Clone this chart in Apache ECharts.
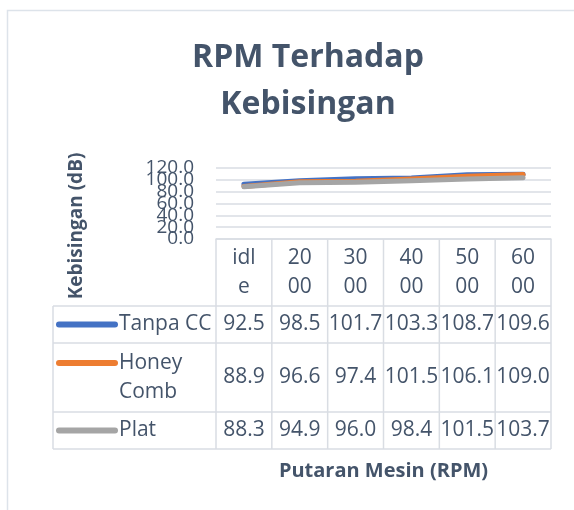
<!DOCTYPE html>
<html>
<head>
<meta charset="utf-8">
<script src="https://cdn.jsdelivr.net/npm/echarts@6/dist/echarts.min.js"></script>
<style>
  html, body { margin: 0; padding: 0; background: #fff; }
  #main { width: 574px; height: 510px; }
</style>
</head>
<body>
<div id="main"></div>
<script>
// data
const categories = ['idle', '2000', '3000', '4000', '5000', '6000'];
const seriesNames = ['Tanpa CC', 'Honey Comb', 'Plat'];
const tanpaCC = [92.5, 98.5, 101.7, 103.3, 108.7, 109.6];
const honeyComb = [88.9, 96.6, 97.4, 101.5, 106.1, 109.0];
const plat = [88.3, 94.9, 96.0, 98.4, 101.5, 103.7];
const yTicks = [0, 20, 40, 60, 80, 100, 120];

const seriesData = [tanpaCC, honeyComb, plat];
const colors = ['#4472C4', '#ED7D31', '#A5A5A5'];
const textColor = '#44546A';
const lineColor = '#D9DDE3';
const font = '"Open Sans", sans-serif';
const step = yTicks[1] - yTicks[0];

var myChart = echarts.init(document.getElementById('main'));

// the tick labels overlap in the original, so even and odd ticks go on two
// stacked axes to stop echarts from hiding them
function makeYAxis(parity) {
  return {
    type: 'value',
    position: 'left',
    min: yTicks[0],
    max: yTicks[yTicks.length - 1],
    interval: step,
    axisLine: { show: false },
    axisTick: { show: false },
    axisLabel: {
      margin: 22,
      fontFamily: font,
      fontSize: 19,
      color: textColor,
      showMinLabel: true,
      showMaxLabel: true,
      hideOverlap: false,
      formatter: function (v) {
        return Math.round(v / step) % 2 === parity ? v.toFixed(1) : '';
      },
    },
    splitLine: { show: parity === 0, lineStyle: { color: lineColor, width: 1.5 } },
  };
}

var option = {
  animation: false,
  title: {
    text: 'RPM Terhadap\nKebisingan',
    left: 303,
    top: 29,
    textAlign: 'center',
    textStyle: {
      fontFamily: font,
      fontSize: 32,
      fontWeight: 'bold',
      color: textColor,
      lineHeight: 47,
    },
  },
  grid: {
    left: 216,
    right: 23,
    top: 168,
    bottom: 271,
  },
  xAxis: {
    type: 'category',
    data: categories,
    boundaryGap: true,
    name: 'Putaran Mesin (RPM)',
    nameLocation: 'middle',
    nameGap: 222,
    nameTextStyle: {
      fontFamily: font,
      fontSize: 20,
      fontWeight: 'bold',
      color: textColor,
    },
    axisLine: { show: true, lineStyle: { color: lineColor, width: 1.5 } },
    axisTick: { show: false },
    axisLabel: {
      interval: 0,
      margin: 5,
      fontFamily: font,
      fontSize: 21,
      color: textColor,
      lineHeight: 29,
      width: 30,
      overflow: 'breakAll',
    },
  },
  yAxis: [makeYAxis(0), makeYAxis(1)],
  series: seriesNames.map(function (name, i) {
    return {
      name: name,
      type: 'line',
      data: seriesData[i],
      symbol: 'none',
      color: colors[i],
      lineStyle: { width: 5, cap: 'round', join: 'round' },
    };
  }),
};

myChart.setOption(option);

// data table under the plot, placed from the axis scale
const cx = categories.map(function (c, i) {
  return myChart.convertToPixel({ xAxisIndex: 0 }, i);
});
const half = (cx[1] - cx[0]) / 2;
const colEdges = [cx[0] - half].concat(cx.map(function (x) { return x + half; }));
const y0 = myChart.convertToPixel({ yAxisIndex: 0 }, 0);
const headerH = 67;
const rowH = [37, 69, 37];
const lineH = 29;
const tableLeft = 53;
const tableRight = colEdges[colEdges.length - 1];

const rowTops = [y0 + headerH];
rowH.forEach(function (h, i) { rowTops.push(rowTops[i] + h); });
const tableBottom = rowTops[rowTops.length - 1];

const graphics = [];
// outer frame
graphics.push({
  type: 'rect',
  shape: { x: 7.5, y: 10.5, width: 600, height: 600 },
  style: { fill: 'none', stroke: '#DDE3EA', lineWidth: 1.5 },
  silent: true,
});
// vertical lines
colEdges.forEach(function (x) {
  graphics.push({
    type: 'line',
    shape: { x1: x, y1: y0, x2: x, y2: tableBottom },
    style: { stroke: lineColor, lineWidth: 1.5 },
  });
});
graphics.push({
  type: 'line',
  shape: { x1: tableLeft, y1: rowTops[0], x2: tableLeft, y2: tableBottom },
  style: { stroke: lineColor, lineWidth: 1.5 },
});
// horizontal lines
rowTops.forEach(function (y) {
  graphics.push({
    type: 'line',
    shape: { x1: tableLeft, y1: y, x2: tableRight, y2: y },
    style: { stroke: lineColor, lineWidth: 1.5 },
  });
});
// rows
seriesNames.forEach(function (name, i) {
  const top = rowTops[i];
  const mid = top + rowH[i] / 2;
  const nLines = rowH[i] > 50 ? 2 : 1;
  const keyY = top + (rowH[i] - nLines * lineH) / 2 + lineH / 2;
  graphics.push({
    type: 'line',
    shape: { x1: 59, y1: keyY, x2: 115, y2: keyY },
    style: { stroke: colors[i], lineWidth: 6, lineCap: 'round' },
  });
  graphics.push({
    type: 'text',
    x: 119,
    y: mid,
    style: {
      text: name,
      fontFamily: font,
      fontSize: 21,
      fill: textColor,
      width: 94,
      overflow: 'break',
      lineHeight: lineH,
      align: 'left',
      verticalAlign: 'middle',
    },
  });
  seriesData[i].forEach(function (v, j) {
    graphics.push({
      type: 'text',
      x: cx[j],
      y: mid,
      style: {
        text: v.toFixed(1),
        fontFamily: font,
        fontSize: 21,
        fill: textColor,
        align: 'center',
        verticalAlign: 'middle',
      },
    });
  });
});
// y axis title
graphics.push({
  type: 'text',
  x: 77,
  y: 226,
  rotation: Math.PI / 2,
  style: {
    text: 'Kebisingan (dB)',
    fontFamily: font,
    fontSize: 19,
    fontWeight: 'bold',
    fill: textColor,
    align: 'center',
    verticalAlign: 'middle',
  },
});

myChart.setOption({ graphic: graphics });
</script>
</body>
</html>
